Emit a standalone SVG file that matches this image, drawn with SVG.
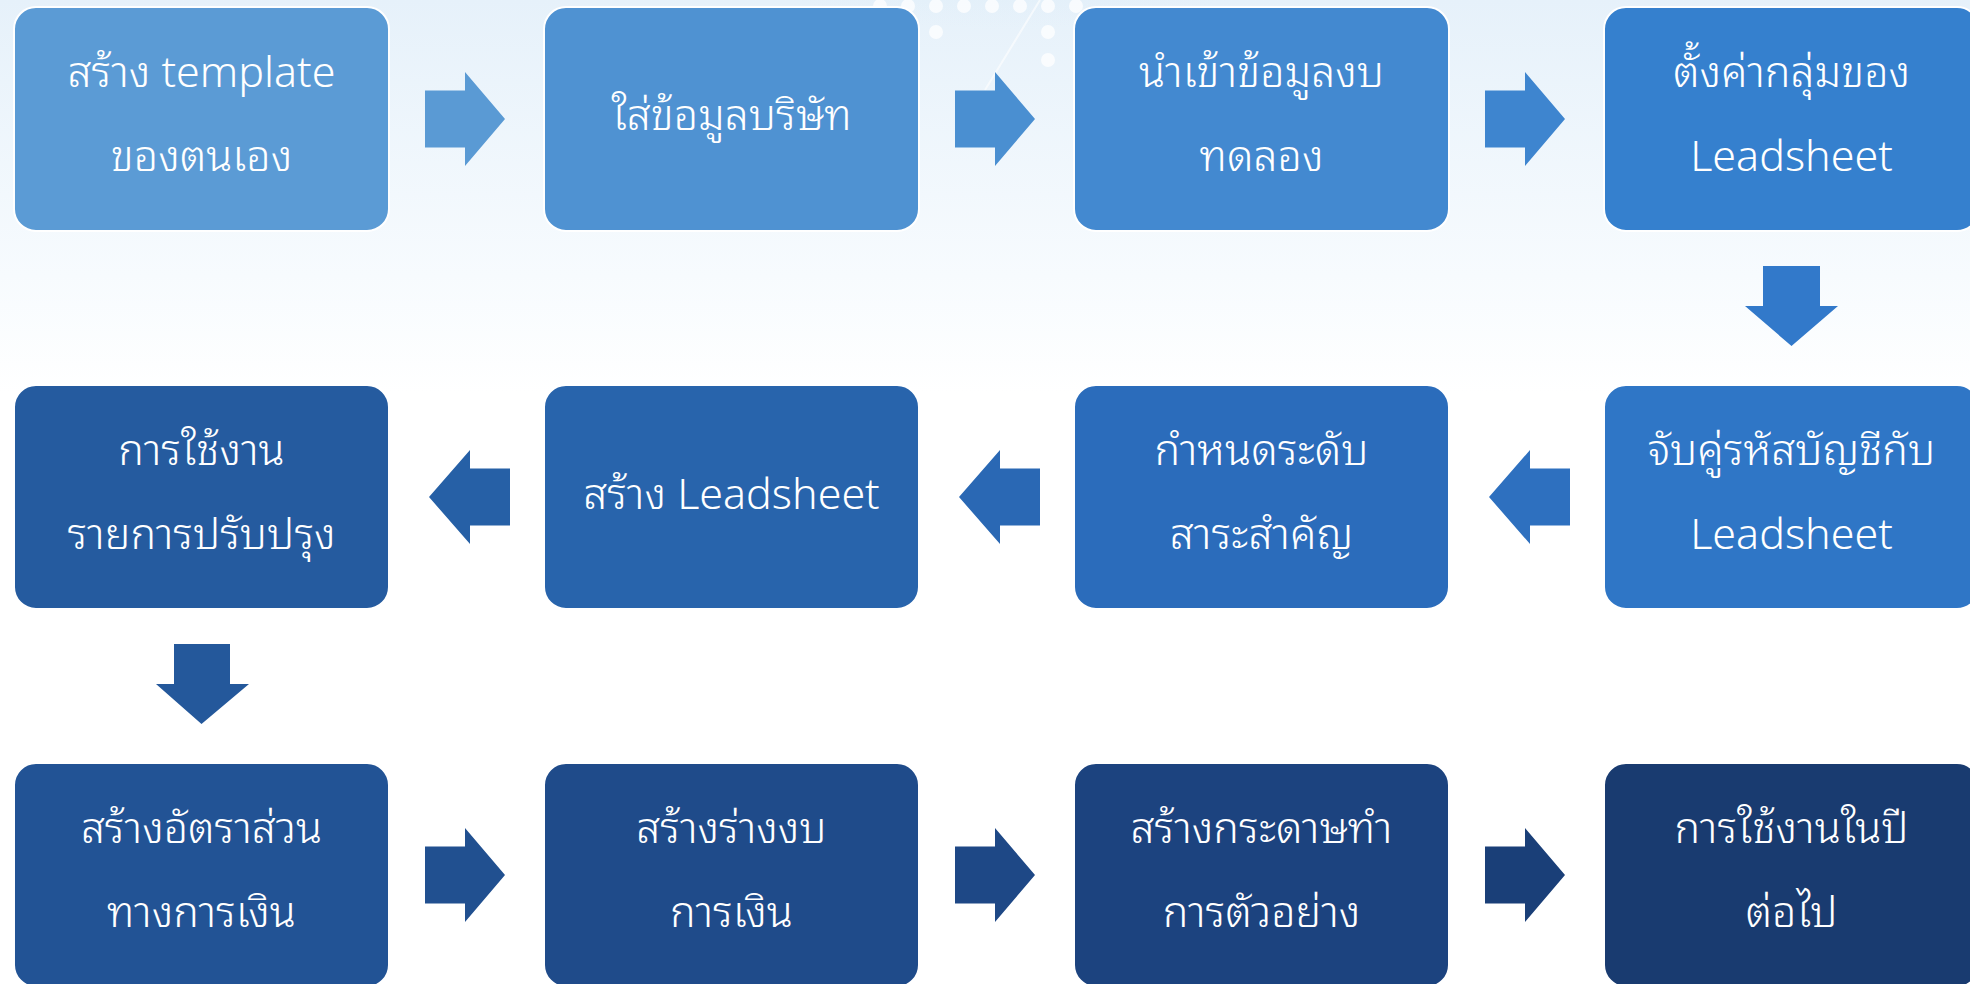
<svg xmlns="http://www.w3.org/2000/svg" width="1970" height="984" viewBox="0 0 1970 984">
<defs>
<linearGradient id="bg" x1="0" y1="0" x2="0" y2="1">
<stop offset="0" stop-color="#e6f1fa"/>
<stop offset="0.28" stop-color="#f7fbfe"/>
<stop offset="0.4" stop-color="#ffffff"/>
<stop offset="1" stop-color="#ffffff"/>
</linearGradient>
<radialGradient id="glow" cx="0.5" cy="0" r="0.6">
<stop offset="0" stop-color="#bfe0f2" stop-opacity="0.9"/>
<stop offset="1" stop-color="#d8ebf7" stop-opacity="0"/>
</radialGradient>
<style>
.box{stroke:#ffffff;stroke-width:2}
.t{font-family:'Noto Sans Thai Looped','Noto Sans Thai','Helvetica Neue','Noto Sans','DejaVu Sans',sans-serif;font-size:43px;font-weight:300;fill:#ffffff;text-anchor:middle}
.dot{fill:#ffffff;opacity:0.75}
</style>
</defs>
<rect width="1970" height="984" fill="url(#bg)"/>
<ellipse cx="1010" cy="0" rx="330" ry="150" fill="url(#glow)"/>
<g id="dots">
<circle class="dot" cx="880" cy="6" r="7"/><circle class="dot" cx="908" cy="6" r="7"/><circle class="dot" cx="936" cy="6" r="7"/><circle class="dot" cx="964" cy="6" r="7"/><circle class="dot" cx="992" cy="6" r="7"/><circle class="dot" cx="1020" cy="6" r="7"/><circle class="dot" cx="1048" cy="6" r="7"/><circle class="dot" cx="1076" cy="6" r="7"/>
<circle class="dot" cx="936" cy="32" r="7"/><circle class="dot" cx="1048" cy="32" r="7"/>
<circle class="dot" cx="1048" cy="60" r="7"/>
<line x1="1040" y1="0" x2="985" y2="90" stroke="#ffffff" stroke-width="2" opacity="0.6"/>
</g>
<g id="connectors">
<polygon fill="#5a9ad4" points="425,90.5 465,90.5 465,72 505,119 465,166 465,147.5 425,147.5"/>
<polygon fill="#4a8fd1" points="955,90.5 995,90.5 995,72 1035,119 995,166 995,147.5 955,147.5"/>
<polygon fill="#3e85cf" points="1485,90.5 1525,90.5 1525,72 1565,119 1525,166 1525,147.5 1485,147.5"/>
<polygon fill="#3279ca" points="1763,266 1820,266 1820,306 1838,306 1791.5,346 1745,306 1763,306"/>
<polygon fill="#2e70bf" points="1570,468.5 1530,468.5 1530,450 1489,497 1530,544 1530,525.5 1570,525.5"/>
<polygon fill="#2a68b4" points="1040,468.5 1000,468.5 1000,450 959,497 1000,544 1000,525.5 1040,525.5"/>
<polygon fill="#2660a6" points="510,468.5 470,468.5 470,450 429,497 470,544 470,525.5 510,525.5"/>
<polygon fill="#24589b" points="174,644 230,644 230,684 249,684 201.5,724 156,684 174,684"/>
<polygon fill="#215090" points="425,846.5 465,846.5 465,828 505,875 465,922 465,903.5 425,903.5"/>
<polygon fill="#1e4886" points="955,846.5 995,846.5 995,828 1035,875 995,922 995,903.5 955,903.5"/>
<polygon fill="#1a3f78" points="1485,846.5 1525,846.5 1525,828 1565,875 1525,922 1525,903.5 1485,903.5"/>
</g>
<g id="n1"><rect class="box" x="14" y="7" width="375" height="224" rx="22" fill="#5b9bd5"/><text class="t" x="201.5" y="87">สร้าง template</text><text class="t" x="201.5" y="171">ของตนเอง</text></g>
<g id="n2"><rect class="box" x="544" y="7" width="375" height="224" rx="22" fill="#4f92d2"/><text class="t" x="731.5" y="130">ใส่ข้อมูลบริษัท</text></g>
<g id="n3"><rect class="box" x="1074" y="7" width="375" height="224" rx="22" fill="#4389d0"/><text class="t" x="1261.5" y="87">นำเข้าข้อมูลงบ</text><text class="t" x="1261.5" y="171">ทดลอง</text></g>
<g id="n4"><rect class="box" x="1604" y="7" width="375" height="224" rx="22" fill="#3580ce"/><text class="t" x="1791.5" y="87">ตั้งค่ากลุ่มของ</text><text class="t" x="1791.5" y="171">Leadsheet</text></g>
<g id="n5"><rect class="box" x="1604" y="385" width="375" height="224" rx="22" fill="#2f76c6"/><text class="t" x="1791.5" y="465">จับคู่รหัสบัญชีกับ</text><text class="t" x="1791.5" y="549">Leadsheet</text></g>
<g id="n6"><rect class="box" x="1074" y="385" width="375" height="224" rx="22" fill="#2b6cbb"/><text class="t" x="1261.5" y="465">กำหนดระดับ</text><text class="t" x="1261.5" y="549">สาระสำคัญ</text></g>
<g id="n7"><rect class="box" x="544" y="385" width="375" height="224" rx="22" fill="#2864ac"/><text class="t" x="731.5" y="509">สร้าง Leadsheet</text></g>
<g id="n8"><rect class="box" x="14" y="385" width="375" height="224" rx="22" fill="#255b9f"/><text class="t" x="201.5" y="465">การใช้งาน</text><text class="t" x="201.5" y="549">รายการปรับปรุง</text></g>
<g id="n9"><rect class="box" x="14" y="763" width="375" height="224" rx="22" fill="#225395"/><text class="t" x="201.5" y="843">สร้างอัตราส่วน</text><text class="t" x="201.5" y="927">ทางการเงิน</text></g>
<g id="n10"><rect class="box" x="544" y="763" width="375" height="224" rx="22" fill="#1f4b8a"/><text class="t" x="731.5" y="843">สร้างร่างงบ</text><text class="t" x="731.5" y="927">การเงิน</text></g>
<g id="n11"><rect class="box" x="1074" y="763" width="375" height="224" rx="22" fill="#1c437f"/><text class="t" x="1261.5" y="843">สร้างกระดาษทำ</text><text class="t" x="1261.5" y="927">การตัวอย่าง</text></g>
<g id="n12"><rect class="box" x="1604" y="763" width="375" height="224" rx="22" fill="#193b70"/><text class="t" x="1791.5" y="843">การใช้งานในปี</text><text class="t" x="1791.5" y="927">ต่อไป</text></g>
</svg>
